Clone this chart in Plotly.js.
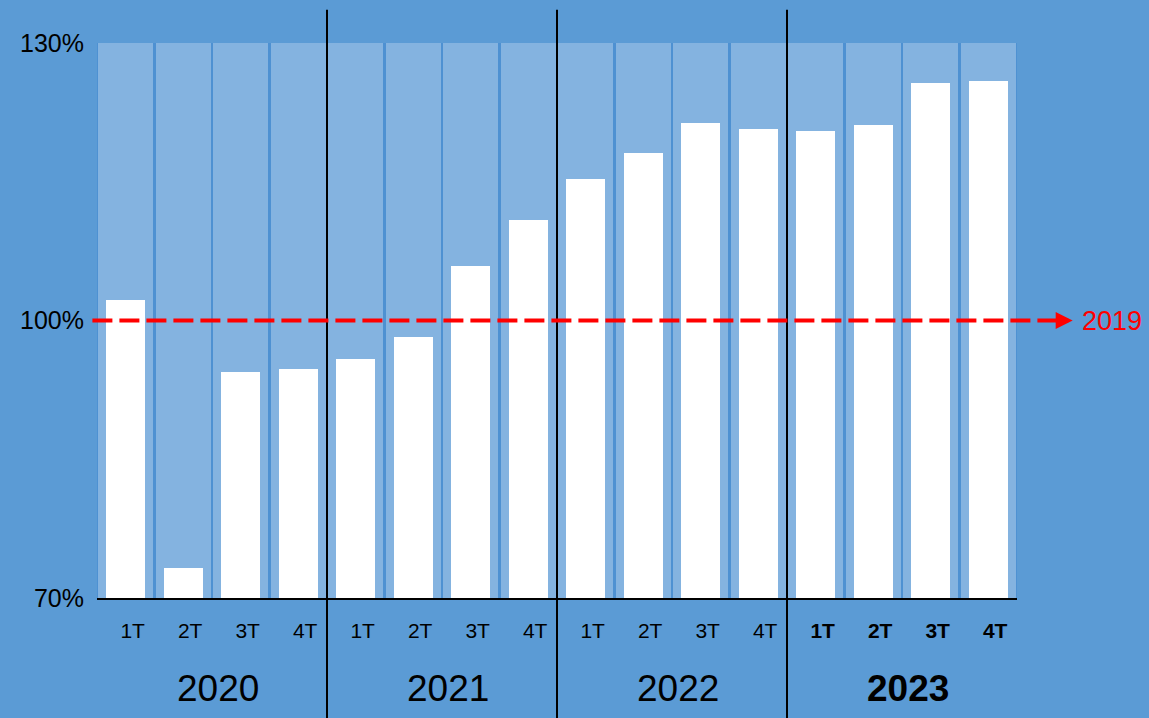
<!DOCTYPE html>
<html>
<head>
<meta charset="utf-8">
<script src="https://cdn.plot.ly/plotly-3.0.1.min.js"></script>
<style>html,body{margin:0;padding:0;background:#5B9BD5;}#chart{width:1149px;height:718px;}</style>
</head>
<body>
<div id="chart"></div>
<script>
const years = ['2020', '2021', '2022', '2023'];
const quarters = ['1T', '2T', '3T', '4T'];
const values = [102.2, 73.2, 94.4, 94.8, 95.8, 98.2, 105.9, 110.9, 115.3, 118.1, 121.4, 120.7, 120.5, 121.1, 125.7, 125.9];
const yTicks = [70, 100, 130];
const yTickLabels = ['70%', '100%', '130%'];
const refValue = 100;
const refLabel = '2019';
const boldYear = '2023';

const xs = values.map((v, i) => i);
const tickText = [];
years.forEach(y => quarters.forEach(q => tickText.push(y === boldYear ? '<b>' + q + '</b>' : q)));
const yMin = yTicks[0], yMax = yTicks[yTicks.length - 1];
const FONT = 'Liberation Sans, Arial, sans-serif';
const labelShift = 0.12;

const bgBars = {
  type: 'bar', x: xs, y: values.map(() => yMax - yMin), base: yMin,
  width: 0.965, marker: {color: '#84B3E0'}, hoverinfo: 'skip', showlegend: false
};
const bars = {
  type: 'bar', x: xs, y: values.map(v => v - yMin), base: yMin,
  width: 0.67, marker: {color: '#FFFFFF'}, hoverinfo: 'skip', showlegend: false
};

const refFrac = (refValue - yMin) / (yMax - yMin);
const shapes = [];
for (let k = 1; k < years.length; k++) {
  const xb = k * quarters.length - 0.5;
  shapes.push({type: 'line', xref: 'x', yref: 'paper', x0: xb, x1: xb, y0: -0.22, y1: 1.06,
    line: {color: '#000000', width: 2}});
}
shapes.push({type: 'line', xref: 'paper', yref: 'paper', x0: -0.005, x1: 1.045, y0: refFrac, y1: refFrac,
  line: {color: '#FF0000', width: 4, dash: '20px,7px'}});

const annotations = years.map((y, k) => ({
  x: k * quarters.length + (quarters.length - 1) / 2, xref: 'x', xshift: 6, y: -0.163, yref: 'paper',
  text: y === boldYear ? '<b>' + y + '</b>' : y, showarrow: false,
  font: {family: FONT, size: 37, color: '#000000'},
  xanchor: 'center', yanchor: 'middle'
}));
annotations.push({
  x: 1.0605, xref: 'paper', y: refFrac, yref: 'paper', text: '', showarrow: true,
  ax: -14, ay: 0, arrowhead: 2, arrowsize: 0.85, arrowwidth: 4, arrowcolor: '#FF0000', standoff: 0
});
annotations.push({
  x: 1.069, xref: 'paper', y: refFrac, yref: 'paper', text: refLabel, showarrow: false,
  font: {family: FONT, size: 27, color: '#FF0000'},
  xanchor: 'left', yanchor: 'middle'
});

const layout = {
  width: 1149, height: 718,
  paper_bgcolor: '#5B9BD5', plot_bgcolor: '#4E91D2',
  margin: {l: 97, r: 132, t: 43, b: 120},
  barmode: 'overlay', bargap: 0, hovermode: false, showlegend: false,
  font: {family: FONT, color: '#000000'},
  xaxis: {
    range: [-0.5, values.length - 0.5], tickmode: 'array', tickvals: xs.map(x => x + labelShift), ticktext: tickText,
    showgrid: false, zeroline: false, showline: true, linecolor: '#000000', linewidth: 2,
    ticks: '', ticklabelstandoff: 13, tickfont: {family: FONT, size: 21, color: '#000000'}, fixedrange: true
  },
  yaxis: {
    range: [yMin, yMax], tickmode: 'array', tickvals: yTicks, ticktext: yTickLabels,
    showgrid: false, zeroline: false, showline: false, ticks: '', ticklabelstandoff: 12,
    tickfont: {family: FONT, size: 25, color: '#000000'}, fixedrange: true
  },
  shapes: shapes, annotations: annotations
};
Plotly.newPlot('chart', [bgBars, bars], layout, {displayModeBar: false, staticPlot: true});
</script>
</body>
</html>
